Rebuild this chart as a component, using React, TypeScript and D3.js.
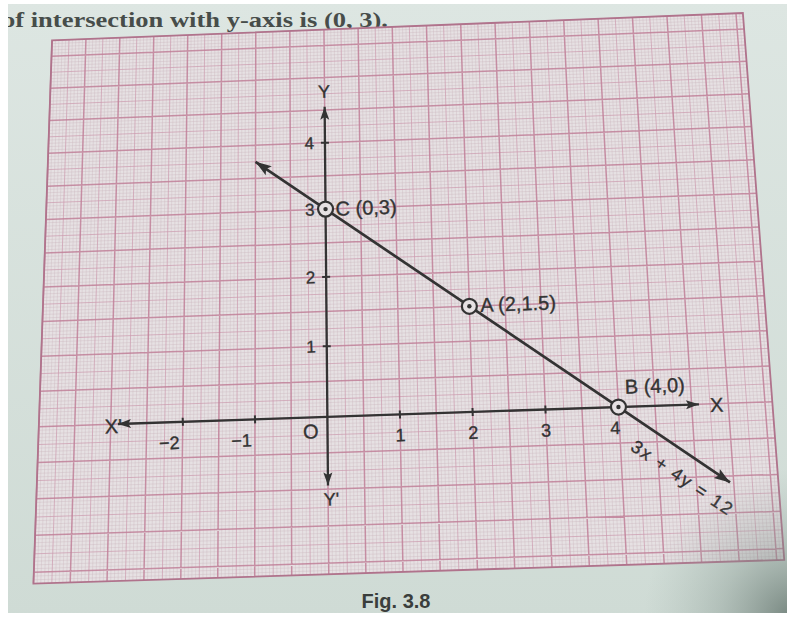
import React from 'react';
import * as d3 from 'd3';

const W = 794;
const H = 618;

// The straight line 3x + 4y = 12 and the three worked points on it
const lineA = 3;
const lineB = 4;
const lineC = 12;
const lineXRange = [-1, 5.45];
const pointNames = ['C', 'A', 'B'];
const pointX = [0, 2, 4];
const pointY = [3, 1.5, 0];
const pointLabels = ['C (0,3)', 'A (2,1.5)', 'B (4,0)'];

// Axes
const xTickValues = [-2, -1, 1, 2, 3, 4];
const xTickLabels = ['−2', '−1', '1', '2', '3', '4'];
const yTickValues = [1, 2, 3, 4];
const yTickLabels = ['1', '2', '3', '4'];
const xAxisRange = [-2.9, 5.1];
const yAxisRange = [-0.95, 4.55];

// Extent of the sheet of graph paper, in graph units (1 unit = 2 cm)
const paperXRange = [-4, 6.1];
const paperYRange = [-2.15, 5.75];

// The sheet lies at a slight angle to the page: graph units -> page pixels
const anchorUnits: [number, number][] = [
  [0, 0], [-2, 0], [-1, 0], [1, 0], [2, 0], [4, 0],
  [0, 1], [0, 2], [0, 3], [0, 4], [2, 1.5],
  [-4, 5.75], [6.1, 5.75], [6.1, -2.15], [-4, -2.15],
];
const anchorPixels: [number, number][] = [
  [329, 417], [184, 422], [257, 419.5], [402, 415], [473, 413], [619, 409],
  [328, 345], [327, 275], [326.5, 207], [327, 141], [469, 305],
  [48, 45], [742, 12], [780, 562], [30, 582],
];

function solveLinear(M: number[][], r: number[]): number[] {
  const n = r.length;
  const A = M.map((row, i) => [...row, r[i]]);
  for (let c = 0; c < n; c++) {
    let piv = c;
    for (let i = c + 1; i < n; i++) if (Math.abs(A[i][c]) > Math.abs(A[piv][c])) piv = i;
    [A[c], A[piv]] = [A[piv], A[c]];
    for (let i = 0; i < n; i++) {
      if (i === c) continue;
      const f = A[i][c] / A[c][c];
      for (let j = c; j <= n; j++) A[i][j] -= f * A[c][j];
    }
  }
  return A.map((row, i) => row[n] / row[i]);
}

function fitHomography(src: [number, number][], dst: [number, number][]) {
  const M = Array.from({ length: 8 }, () => new Array(8).fill(0));
  const r = new Array(8).fill(0);
  const add = (row: number[], rhs: number) => {
    for (let i = 0; i < 8; i++) {
      for (let j = 0; j < 8; j++) M[i][j] += row[i] * row[j];
      r[i] += row[i] * rhs;
    }
  };
  src.forEach(([x, y], k) => {
    const [u, v] = dst[k];
    add([x, y, 1, 0, 0, 0, -u * x, -u * y], u);
    add([0, 0, 0, x, y, 1, -v * x, -v * y], v);
  });
  const h = solveLinear(M, r);
  return (x: number, y: number): [number, number] => {
    const w = h[6] * x + h[7] * y + 1;
    return [(h[0] * x + h[1] * y + h[2]) / w, (h[3] * x + h[4] * y + h[5]) / w];
  };
}

const sx = d3.scaleLinear().domain(paperXRange).range([-1, 1]);
const sy = d3.scaleLinear().domain(paperYRange).range([1, -1]);
const nu = d3.scaleLinear().domain([0, W]).range([-1, 1]);
const nv = d3.scaleLinear().domain([0, H]).range([-1, 1]);

const hom = fitHomography(
  anchorUnits.map(([x, y]) => [sx(x), sy(y)] as [number, number]),
  anchorPixels.map(([u, v]) => [nu(u), nv(v)] as [number, number])
);

const P = (x: number, y: number): [number, number] => {
  const [a, b] = hom(sx(x), sy(y));
  return [nu.invert(a), nv.invert(b)];
};
const pt = (p: [number, number]) => `${p[0].toFixed(2)},${p[1].toFixed(2)}`;

const lineY = (x: number) => (lineC - lineA * x) / lineB;

function arrowHead(tip: [number, number], from: [number, number], len: number, half: number) {
  const dx = tip[0] - from[0];
  const dy = tip[1] - from[1];
  const d = Math.hypot(dx, dy);
  const ux = dx / d;
  const uy = dy / d;
  const bx = tip[0] - ux * len;
  const by = tip[1] - uy * len;
  const nx = -uy;
  const ny = ux;
  const notchX = tip[0] - ux * len * 0.8;
  const notchY = tip[1] - uy * len * 0.8;
  return `${pt(tip)} ${pt([bx + nx * half, by + ny * half])} ${pt([notchX, notchY])} ${pt([bx - nx * half, by - ny * half])}`;
}

function tickSeg(at: [number, number], dir: [number, number], len: number) {
  const d = Math.hypot(dir[0], dir[1]);
  const nx = -dir[1] / d;
  const ny = dir[0] / d;
  return `M${pt([at[0] - nx * len, at[1] - ny * len])}L${pt([at[0] + nx * len, at[1] + ny * len])}`;
}

const INK = '#333333';
const LABEL_FONT = '"Liberation Sans", Arial, sans-serif';
const PAPER = '#e6e1e3';

export default function App() {
  const [xL, xR] = paperXRange;
  const [yB, yT] = paperYRange;

  // graph paper rulings: 1 mm, 5 mm and 1 cm
  const step = 0.05;
  let fine = '';
  let medium = '';
  let major = '';
  for (let k = Math.ceil(xL / step - 1e-9); k <= Math.floor(xR / step + 1e-9); k++) {
    const x = k * step;
    const seg = `M${pt(P(x, yB))}L${pt(P(x, yT))}`;
    const m = Math.abs(k) % 10;
    if (m === 0) major += seg;
    else if (m === 5) medium += seg;
    else fine += seg;
  }
  for (let k = Math.ceil(yB / step - 1e-9); k <= Math.floor(yT / step + 1e-9); k++) {
    const y = k * step;
    const seg = `M${pt(P(xL, y))}L${pt(P(xR, y))}`;
    const m = Math.abs(k) % 10;
    if (m === 0) major += seg;
    else if (m === 5) medium += seg;
    else fine += seg;
  }
  const paperPoly = [P(xL, yT), P(xR, yT), P(xR, yB), P(xL, yB)].map(pt).join(' ');

  const origin = P(0, 0);
  const xDir: [number, number] = [P(1, 0)[0] - origin[0], P(1, 0)[1] - origin[1]];
  const yDir: [number, number] = [P(0, 1)[0] - origin[0], P(0, 1)[1] - origin[1]];
  const tilt = (Math.atan2(xDir[1], xDir[0]) * 180) / Math.PI;

  const xAxisL = P(xAxisRange[0], 0);
  const xAxisR = P(xAxisRange[1], 0);
  const yAxisB = P(0, yAxisRange[0]);
  const yAxisT = P(0, yAxisRange[1]);

  const lineStart = P(lineXRange[0], lineY(lineXRange[0]));
  const lineEnd = P(lineXRange[1], lineY(lineXRange[1]));
  const lineAngle = (Math.atan2(lineEnd[1] - lineStart[1], lineEnd[0] - lineStart[0]) * 180) / Math.PI;

  const pts = pointX.map((x, i) => P(x, pointY[i]));
  const labelOffsets: [number, number][] = [[10, 7], [11, 6], [7, -13]];

  const label = (
    key: string,
    at: [number, number],
    dx: number,
    dy: number,
    text: string,
    size: number,
    anchor: 'start' | 'middle' | 'end' = 'start'
  ) => (
    <text
      key={key}
      transform={`translate(${pt(at)}) rotate(${tilt.toFixed(2)})`}
      x={dx}
      y={dy}
      fontSize={size}
      fontFamily={LABEL_FONT}
      fill={INK}
      stroke={INK}
      strokeWidth={0.35}
      textAnchor={anchor}
    >
      {text}
    </text>
  );

  return (
    <svg
      width={W}
      height={H}
      viewBox={`0 0 ${W} ${H}`}
      style={{ position: 'absolute', left: 0, top: 0, display: 'block' }}
    >
      <defs>
        <linearGradient id="page" x1="0" y1="0" x2="0" y2="1">
          <stop offset="0" stopColor="#dde6e2" />
          <stop offset="1" stopColor="#cfdbd5" />
        </linearGradient>
        <radialGradient id="shade" cx={W} cy={H} r={150} gradientUnits="userSpaceOnUse">
          <stop offset="0" stopColor="#55665f" stopOpacity={0.75} />
          <stop offset="0.5" stopColor="#7d8e87" stopOpacity={0.35} />
          <stop offset="1" stopColor="#9aaba4" stopOpacity={0} />
        </radialGradient>
        <clipPath id="photo">
          <rect x={8} y={4} width={779} height={609} />
        </clipPath>
      </defs>

      <rect x={0} y={0} width={W} height={H} fill="#ffffff" />

      <g clipPath="url(#photo)">
        <rect x={0} y={0} width={W} height={H} fill="url(#page)" />

        <text
          x={2}
          y={27}
          fontSize={22}
          fontWeight="bold"
          fontFamily='"Liberation Serif", "Times New Roman", serif'
          fill="#474d4a"
          textLength={386}
          lengthAdjust="spacingAndGlyphs"
        >
          of intersection with y-axis is (0, 3).
        </text>

        {/* sheet of graph paper */}
        <polygon points={paperPoly} fill={PAPER} />
        <path d={fine} stroke="#c9b4bd" strokeWidth={0.6} strokeOpacity={0.6} fill="none" />
        <path d={medium} stroke="#cb9bae" strokeWidth={0.9} strokeOpacity={0.8} fill="none" />
        <path d={major} stroke="#bf7f98" strokeWidth={1.5} strokeOpacity={0.85} fill="none" />
        <polygon points={paperPoly} fill="none" stroke="#b0738c" strokeWidth={1.8} />

        {/* axes */}
        <line x1={xAxisL[0]} y1={xAxisL[1]} x2={xAxisR[0]} y2={xAxisR[1]} stroke={INK} strokeWidth={2.3} />
        <line x1={yAxisB[0]} y1={yAxisB[1]} x2={yAxisT[0]} y2={yAxisT[1]} stroke={INK} strokeWidth={2.3} />
        <polygon points={arrowHead(xAxisL, origin, 13, 4.5)} fill={INK} />
        <polygon points={arrowHead(xAxisR, origin, 13, 4.5)} fill={INK} />
        <polygon points={arrowHead(yAxisT, origin, 13, 4.5)} fill={INK} />
        <polygon points={arrowHead(yAxisB, origin, 13, 4.5)} fill={INK} />

        {xTickValues.map((v) => (
          <path key={`xt${v}`} d={tickSeg(P(v, 0), xDir, 4)} stroke={INK} strokeWidth={2} />
        ))}
        {yTickValues.map((v) => (
          <path key={`yt${v}`} d={tickSeg(P(0, v), yDir, 4)} stroke={INK} strokeWidth={2} />
        ))}

        {xTickValues.map((v, i) =>
          v < 0
            ? label(`xl${v}`, P(v, 0), -4, 27, xTickLabels[i], 18, 'end')
            : label(`xl${v}`, P(v, 0), v === 4 ? -4 : 0, 27, xTickLabels[i], 18, 'middle')
        )}
        {yTickValues.map((v, i) => label(`yl${v}`, P(0, v), -11, 6, yTickLabels[i], 17, 'end'))}

        {label('O', origin, -17, 21, 'O', 20, 'middle')}
        {label('X', xAxisR, 11, 8, 'X', 20, 'start')}
        {label("X'", xAxisL, 4, 9, "X'", 20, 'end')}
        {label('Y', yAxisT, 0, -9, 'Y', 18, 'middle')}
        {label("Y'", yAxisB, 3, 20, "Y'", 18, 'middle')}

        {/* the line 3x + 4y = 12 */}
        <line
          x1={lineStart[0]}
          y1={lineStart[1]}
          x2={lineEnd[0]}
          y2={lineEnd[1]}
          stroke={INK}
          strokeWidth={2.7}
        />
        <polygon points={arrowHead(lineStart, lineEnd, 16, 5.5)} fill={INK} />
        <polygon points={arrowHead(lineEnd, lineStart, 16, 5.5)} fill={INK} />

        {pts.map((p, i) => (
          <g key={pointNames[i]}>
            <circle cx={p[0]} cy={p[1]} r={7.5} fill={PAPER} stroke={INK} strokeWidth={2.2} />
            <circle cx={p[0]} cy={p[1]} r={2.2} fill={INK} />
            {label(`pl${i}`, p, labelOffsets[i][0], labelOffsets[i][1], pointLabels[i], 20, 'start')}
          </g>
        ))}

        <text
          transform={`translate(${pt(pts[2])}) rotate(${lineAngle.toFixed(2)})`}
          x={33}
          y={29}
          fontSize={18}
          fontFamily={LABEL_FONT}
          fill={INK}
          stroke={INK}
          strokeWidth={0.35}
          textLength={118}
          lengthAdjust="spacing"
        >
          3x + 4y = 12
        </text>

        <text
          x={396}
          y={608}
          fontSize={20}
          fontWeight="bold"
          fontFamily='"Liberation Sans Narrow", "Liberation Sans", Arial, sans-serif'
          fill="#3a3e3c"
          textAnchor="middle"
        >
          Fig. 3.8
        </text>

        <rect x={0} y={0} width={W} height={H} fill="url(#shade)" />
      </g>
    </svg>
  );
}
